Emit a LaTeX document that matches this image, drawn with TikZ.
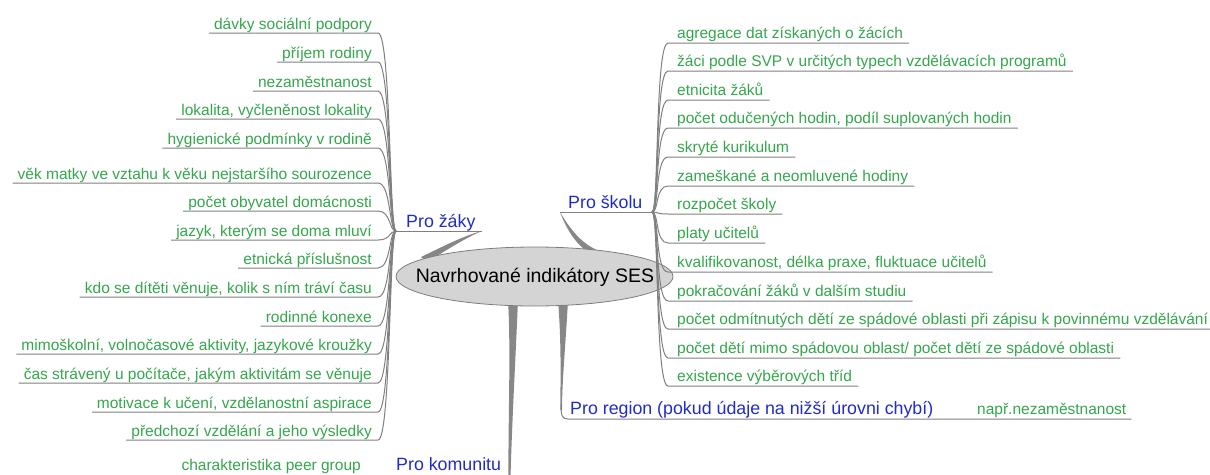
\documentclass[tikz,border=0pt]{standalone}
\usepackage{fontspec}
\setmainfont{Liberation Sans}
\usetikzlibrary{calc}
\definecolor{leafgreen}{RGB}{52,166,76}
\definecolor{topicblue}{RGB}{32,44,200}
\definecolor{linegray}{RGB}{128,128,128}
\definecolor{branchgray}{RGB}{135,135,135}
\definecolor{rootfill}{RGB}{212,212,212}
\definecolor{rootline}{RGB}{125,125,125}
\tikzset{
  leaf/.style={text=leafgreen, font=\fontsize{15.5}{18}\selectfont, inner sep=0pt},
  topic/.style={text=topicblue, font=\fontsize{17.8}{20}\selectfont, inner sep=0pt},
  rootlabel/.style={text=black, font=\fontsize{19.5}{22}\selectfont, inner sep=0pt},
  uline/.style={draw=linegray, line width=1pt},
  branch/.style={fill=branchgray, draw=none},
}
\begin{document}
\begin{tikzpicture}[x=1pt,y=-1pt]
\useasboundingbox (0,0) rectangle (1210,474);
% junction coordinates
\coordinate (zJ) at (396,231);
\coordinate (zE) at (482,231);
\coordinate (sJ) at (652,212);
\coordinate (sB) at (560,212);
% main branches (tapered)
\fill[branch] (421,257) .. controls (444,246) and (463,236) .. (zE) .. controls (465,238) and (447,250) .. (427,262) -- cycle;
\fill[branch] (sB) .. controls (570,229) and (581,243) .. (597,250) -- (590,254) .. controls (577,245) and (567,231) .. (sB) -- cycle;
\fill[branch] (508,300) .. controls (511,350) and (508,420) .. (508.5,478) -- (510.5,478) .. controls (512,420) and (516,350) .. (518,300) -- cycle;
\fill[branch] (558,300) .. controls (562,350) and (560,390) .. (560.5,410) -- (562,410) .. controls (562,380) and (566,340) .. (568,300) -- cycle;
% root
\fill[rootfill, draw=rootline, line width=0.8pt] (534.5,276.5) ellipse [x radius=138.5, y radius=29.5];
\node[rootlabel] (root) at (535,277) {Navrhované indikátory SES};
% topics
\node[topic, anchor=base west] (zaky) at (406,227) {Pro žáky};
\draw[uline] (zJ) -- (zE);
\node[topic, anchor=base west] (skolu) at (568,208) {Pro školu};
\draw[uline] (sB) -- (sJ);
\node[topic, anchor=base west] (region) at (570,414) {Pro region (pokud údaje na nižší úrovni chybí)};
\node[leaf, anchor=base west] (nap) at (977,414) {např.nezaměstnanost};
\coordinate (rgE) at ([xshift=5pt]nap.east |- 0,419);
\draw[uline] (561,404) .. controls (561,416) and (562,419) .. (568,419) -- (rgE);
\node[topic, anchor=base west] (komunitu) at (396,470) {Pro komunitu};
\node[leaf, anchor=base east] (peer) at (361,470) {charakteristika peer group};
% left leaves
\foreach \i/\y/\t in {
  1/33/{dávky sociální podpory},
  2/62/{příjem rodiny},
  3/91/{nezaměstnanost},
  4/119/{lokalita, vyčleněnost lokality},
  5/148/{hygienické podmínky v rodině},
  6/183/{věk matky ve vztahu k věku nejstaršího sourozence},
  7/211/{počet obyvatel domácnosti},
  8/240/{jazyk, kterým se doma mluví},
  9/268/{etnická příslušnost},
  10/297/{kdo se dítěti věnuje, kolik s ním tráví času},
  11/326/{rodinné konexe},
  12/354/{mimoškolní, volnočasové aktivity, jazykové kroužky},
  13/383/{čas strávený u počítače, jakým aktivitám se věnuje},
  14/412/{motivace k učení, vzdělanostní aspirace},
  15/440/{předchozí vzdělání a jeho výsledky}} {
  \node[leaf, anchor=base east] (l\i) at (372,\y-4) {\t};
  \coordinate (le\i) at (378,\y);
  \draw[uline] ([xshift=-5pt]l\i.west |- le\i) -- (le\i) .. controls (391,\y) and (389,231) .. (zJ);
}
% right leaves
\foreach \i/\y/\t in {
  1/43/{agregace dat získaných o žácích},
  2/71/{žáci podle SVP v určitých typech vzdělávacích programů},
  3/100/{etnicita žáků},
  4/128/{počet odučených hodin, podíl suplovaných hodin},
  5/157/{skryté kurikulum},
  6/186/{zameškané a neomluvené hodiny},
  7/214/{rozpočet školy},
  8/243/{platy učitelů},
  9/272/{kvalifikovanost, délka praxe, fluktuace učitelů},
  10/301/{pokračování žáků v dalším studiu},
  11/329/{počet odmítnutých dětí ze spádové oblasti při zápisu k povinnému vzdělávání},
  12/358/{počet dětí mimo spádovou oblast/ počet dětí ze spádové oblasti},
  13/386/{existence výběrových tříd}} {
  \node[leaf, anchor=base west] (r\i) at (677,\y-5) {\t};
  \coordinate (rs\i) at (668,\y);
  \draw[uline] (sJ) .. controls (659,212) and (655,\y) .. (rs\i) -- ([xshift=6pt]r\i.east |- rs\i);
}
\end{tikzpicture}
\end{document}
